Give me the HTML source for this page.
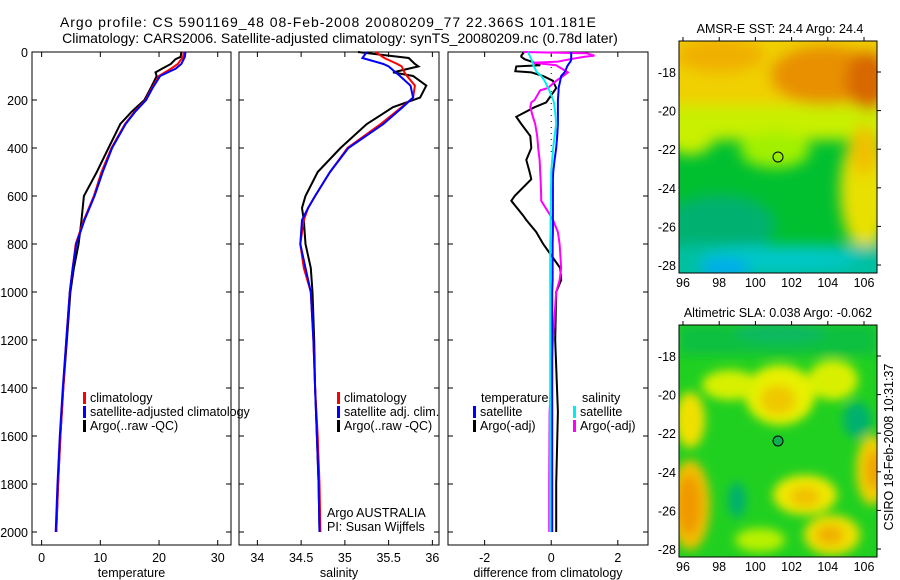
<!DOCTYPE html>
<html><head><meta charset="utf-8"><style>
html,body{margin:0;padding:0;background:#fff}
svg{display:block;font-family:"Liberation Sans",sans-serif}
</style></head><body>
<svg id="c" width="900" height="580" viewBox="0 0 900 580" xmlns="http://www.w3.org/2000/svg">
<defs>
<filter id="bl" x="-30%" y="-30%" width="160%" height="160%"><feGaussianBlur stdDeviation="7"/></filter>
<filter id="bl2" x="-30%" y="-30%" width="160%" height="160%"><feGaussianBlur stdDeviation="5"/></filter>
<clipPath id="m1"><rect x="679" y="41" width="198" height="232"/></clipPath>
<clipPath id="m2"><rect x="679" y="325" width="198" height="232"/></clipPath>
</defs>
<text x="60" y="27" font-size="14" textLength="536" lengthAdjust="spacing">Argo profile: CS 5901169_48 08-Feb-2008 20080209_77 22.366S 101.181E</text>
<text x="340" y="43" font-size="14" text-anchor="middle">Climatology: CARS2006. Satellite-adjusted climatology: synTS_20080209.nc (0.78d later)</text>

<g clip-path="url(#m1)">
<rect x="679" y="41" width="198" height="232" fill="#00c030"/>
<g filter="url(#bl)">
<rect x="660" y="20" width="240" height="105" fill="#f0d000"/>
<rect x="660" y="105" width="240" height="35" fill="#c8f000"/>
<ellipse cx="690" cy="135" rx="25" ry="20" fill="#c8f000"/>
<ellipse cx="775" cy="150" rx="35" ry="18" fill="#a0f000"/>
<ellipse cx="720" cy="55" rx="45" ry="18" fill="#f0b000"/>
<ellipse cx="825" cy="75" rx="55" ry="30" fill="#e89000"/>
<ellipse cx="868" cy="80" rx="22" ry="30" fill="#d86800"/>
<ellipse cx="865" cy="190" rx="25" ry="60" fill="#e8e000"/>
<ellipse cx="864" cy="150" rx="14" ry="25" fill="#f0c000"/>
<ellipse cx="720" cy="225" rx="55" ry="30" fill="#00b070"/>
<rect x="660" y="245" width="240" height="40" fill="#00c0a0"/>
<ellipse cx="780" cy="258" rx="80" ry="12" fill="#00c8c8"/>
<ellipse cx="725" cy="268" rx="25" ry="9" fill="#00a8f0"/>
</g></g>
<rect x="679" y="41" width="198" height="232" fill="none" stroke="#000"/>
<circle cx="778" cy="157" r="5" fill="none" stroke="#000"/>
<text x="780" y="33" font-size="12.5" text-anchor="middle">AMSR-E SST: 24.4  Argo: 24.4</text>

<g clip-path="url(#m2)">
<rect x="679" y="325" width="198" height="232" fill="#20d020"/>
<g filter="url(#bl2)">
<rect x="679" y="325" width="198" height="30" fill="#10c040"/>
<ellipse cx="780" cy="395" rx="35" ry="30" fill="#e8f000"/>
<ellipse cx="778" cy="400" rx="18" ry="15" fill="#f0c800"/>
<ellipse cx="690" cy="505" rx="20" ry="45" fill="#f0c000"/>
<ellipse cx="689" cy="505" rx="12" ry="30" fill="#f09800"/>
<ellipse cx="690" cy="420" rx="15" ry="28" fill="#f0e000"/>
<ellipse cx="872" cy="470" rx="16" ry="35" fill="#f0d000"/>
<ellipse cx="874" cy="470" rx="8" ry="20" fill="#f0a000"/>
<ellipse cx="805" cy="495" rx="32" ry="20" fill="#f0e800"/>
<ellipse cx="805" cy="497" rx="15" ry="10" fill="#f0c000"/>
<ellipse cx="832" cy="535" rx="28" ry="20" fill="#f0e000"/>
<ellipse cx="830" cy="535" rx="14" ry="10" fill="#f0b000"/>
<ellipse cx="730" cy="385" rx="28" ry="15" fill="#d8f000"/>
<ellipse cx="833" cy="380" rx="25" ry="20" fill="#d8f000"/>
<ellipse cx="760" cy="540" rx="25" ry="12" fill="#b8f000"/>
<ellipse cx="857" cy="420" rx="14" ry="18" fill="#00b070"/>
<ellipse cx="737" cy="500" rx="9" ry="18" fill="#00b070"/>
<ellipse cx="780" cy="333" rx="45" ry="10" fill="#10b860"/>
</g></g>
<rect x="679" y="325" width="198" height="232" fill="none" stroke="#000"/>
<circle cx="778" cy="441" r="5" fill="#10b050" stroke="#000"/>
<text x="778" y="317" font-size="12.5" text-anchor="middle">Altimetric SLA: 0.038  Argo: -0.062</text>
<text transform="translate(893,447) rotate(-90)" font-size="12.5" text-anchor="middle">CSIRO 18-Feb-2008 10:31:37</text>
<g id="g"></g>
</svg>
<script>
// ---- data ----
var depthTicks=[0,200,400,600,800,1000,1200,1400,1600,1800,2000];
var tTicks=[0,10,20,30];
var sTicks=[34,34.5,35,35.5,36];
var dTicks=[-2,0,2];
var tDepth=[0,20,30,50,70,85,100,150,200,250,300,400,500,600,700,800,900,1000,1200,1400,1600,1800,2000];
var tArgo=[23.8,23.7,22.8,22.0,20.5,19.4,19.6,18.6,17.5,15.3,13.4,11.4,9.4,7.2,6.8,6.3,5.5,4.9,4.3,3.7,3.2,2.8,2.5];
var tClim=[24.2,24.1,23.8,23.2,22.0,21.0,20.0,18.8,17.7,15.8,14.2,11.9,10.2,8.9,7.2,5.8,5.3,4.8,4.2,3.7,3.2,2.8,2.5];
var tSat=[24.5,24.4,24.2,23.8,22.8,21.5,20.2,18.9,17.8,15.9,14.3,12.0,10.4,9.0,7.3,5.9,5.3,4.8,4.2,3.6,3.1,2.7,2.4];
var sDepth=[0,25,50,60,85,100,140,190,230,300,400,500,600,650,700,800,900,1000,1200,1400,1600,1800,2000];
var sArgo=[35.15,35.73,35.80,35.84,35.55,35.78,35.93,35.86,35.55,35.25,34.95,34.69,34.55,34.51,34.53,34.55,34.61,34.63,34.65,34.66,34.68,34.70,34.71];
var sClim=[35.35,35.45,35.6,35.65,35.68,35.71,35.80,35.78,35.65,35.41,35.03,34.83,34.66,34.58,34.53,34.49,34.53,34.61,34.64,34.66,34.69,34.71,34.72];
var sSat=[35.25,35.2,35.44,35.5,35.58,35.63,35.75,35.78,35.66,35.44,35.04,34.83,34.66,34.58,34.51,34.49,34.55,34.61,34.64,34.66,34.68,34.70,34.71];
var dDepth=[0,5,15,20,30,40,45,55,60,80,85,100,120,150,160,200,210,230,270,300,350,400,450,500,530,600,620,680,700,750,800,900,950,1000,1200,1500,1800,2000];
var dTempSat=[0.6,0.6,0.6,0.6,0.6,0.58,0.55,0.5,0.48,0.42,0.4,0.3,0.27,0.22,0.22,0.2,0.2,0.2,0.2,0.2,0.18,0.15,0.1,0.06,0.05,0.05,0.05,0.05,0.05,0.05,0.04,0.04,0.04,0.03,0.03,0.03,0.03,0.03];
var dTempArgo=[-0.84,-0.84,-0.9,-0.9,-0.8,-0.6,-0.5,-0.33,-1.05,-1.08,-0.6,-0.24,0.05,0.15,0.1,-0.1,-0.15,-0.5,-1.05,-0.9,-0.63,-0.6,-0.75,-0.65,-0.6,-1.1,-1.2,-0.85,-0.75,-0.45,-0.24,0.27,0.3,0.15,0.12,0.2,0.15,0.15];
var dSalSat=[-0.7,-0.68,-0.65,-0.63,-0.6,-0.57,-0.56,-0.54,-0.52,-0.45,-0.42,-0.3,-0.2,-0.09,-0.06,0.06,0.08,0.1,0.13,0.15,0.1,0.06,0.03,0,0,-0.01,-0.01,-0.02,-0.02,-0.02,-0.03,-0.03,-0.03,-0.03,-0.03,-0.03,-0.03,-0.03];
var dSalArgo=[-0.84,1.05,1.3,1.0,0.57,0.2,-0.54,0.15,0.2,0.45,0.5,0.36,0.15,-0.1,-0.33,-0.5,-0.6,-0.63,-0.55,-0.48,-0.42,-0.39,-0.35,-0.33,-0.32,-0.3,-0.3,-0.03,0.05,0.2,0.25,0.3,0.25,0.15,0.05,-0.05,-0.06,-0.06];

var NS="http://www.w3.org/2000/svg", G=document.getElementById('g');
function el(t,a,p){var e=document.createElementNS(NS,t);for(var k in a)e.setAttribute(k,a[k]);(p||G).appendChild(e);return e;}
function yS(d){return 52+0.24*d;}
var panels=[
 {x0:32,x1:231,v0:-1.64,k:5.87,ticks:tTicks,label:'temperature',name:'temperature'},
 {x0:239,x1:439,v0:33.79,k:87.5,ticks:sTicks,label:'salinity',name:'salinity'},
 {x0:448,x1:648,v0:-3.1,k:33.3,ticks:dTicks,label:'difference from climatology',name:'difference'}];
function xS(p,v){return p.x0+(v-p.v0)*p.k;}
panels.forEach(function(p,i){
 var r=el('rect',{x:p.x0,y:52,width:p.x1-p.x0,height:493,fill:'none',stroke:'#000'});
 
 
 p.ticks.forEach(function(t){
  var x=xS(p,t);
  el('line',{x1:x,y1:52,x2:x,y2:57,stroke:'#000'});
  el('line',{x1:x,y1:545,x2:x,y2:540,stroke:'#000'});
  var tx=el('text',{x:x,y:562,'font-size':12.5,'text-anchor':'middle'});tx.textContent=t;
  
  
 });
 depthTicks.forEach(function(d){
  var y=yS(d);
  el('line',{x1:p.x0,y1:y,x2:p.x0+5,y2:y,stroke:'#000'});
  el('line',{x1:p.x1,y1:y,x2:p.x1-5,y2:y,stroke:'#000'});
  if(i==0){var tx=el('text',{x:28,y:y+5,'font-size':12.5,'text-anchor':'end'});tx.textContent=d;
   
   }
 });
 var lb=el('text',{x:(p.x0+p.x1)/2,y:577,'font-size':12.5,'text-anchor':'middle'});lb.textContent=p.label;
 
 
});
function line(p,ds,vs,col,w,name){
 var pts=ds.map(function(d,i){return xS(p,vs[i]).toFixed(1)+','+yS(d).toFixed(1);}).join(' ');
 var pl=el('polyline',{points:pts,fill:'none',stroke:col,'stroke-width':w,'stroke-linejoin':'miter'});
 
 
}
var P=panels;
line(P[0],tDepth,tArgo,'#000',2,'temperature-argo-line');
line(P[0],tDepth,tClim,'#f00',2,'temperature-climatology-line');
line(P[0],tDepth,tSat,'#00f',2,'temperature-satellite-line');
line(P[1],sDepth,sArgo,'#000',2,'salinity-argo-line');
line(P[1],sDepth,sClim,'#f00',2,'salinity-climatology-line');
line(P[1],sDepth,sSat,'#00f',2,'salinity-satellite-line');
el('line',{x1:xS(P[2],0),y1:55,x2:xS(P[2],0),y2:yS(420),stroke:'#000','stroke-dasharray':'1,5'});
line(P[2],dDepth,dTempArgo,'#000',2,'diff-temperature-argo-line');
line(P[2],dDepth,dSalArgo,'#f0f',2,'diff-salinity-argo-line');
line(P[2],dDepth,dTempSat,'#00f',2,'diff-temperature-satellite-line');
line(P[2],dDepth,dSalSat,'#0ee',2,'diff-salinity-satellite-line');
function leg(x,y,col,txt,name){
 if(col){var r=el('rect',{x:x,y:y-10,width:3,height:12,fill:col});
  
  }
 var t=el('text',{x:x+7,y:y,'font-size':12.5});t.textContent=txt;
 
 
}
leg(83,402,'#f00','climatology','legend-climatology');
leg(83,416,'#00f','satellite-adjusted climatology','legend-satellite-adjusted');
leg(83,430,'#000','Argo(..raw -QC)','legend-argo');
leg(337,402,'#f00','climatology','legend-sal-climatology');
leg(337,416,'#00f','satellite adj. clim.','legend-sal-satellite');
leg(337,430,'#000','Argo(..raw -QC)','legend-sal-argo');
leg(320,517,null,'Argo AUSTRALIA','argo-australia-label');
leg(320,531,null,'PI: Susan Wijffels','pi-label');
leg(474,402,null,'temperature','legend-temperature-header');
leg(473,416,'#00f','satellite','legend-diff-temp-satellite');
leg(473,430,'#000','Argo(-adj)','legend-diff-temp-argo');
leg(575,402,null,'salinity','legend-salinity-header');
leg(573,416,'#0ee','satellite','legend-diff-sal-satellite');
leg(573,430,'#f0f','Argo(-adj)','legend-diff-sal-argo');
// map axes
var lonTicks=[96,98,100,102,104,106], latTicks=[-18,-20,-22,-24,-26,-28];
[[41,273,72,265],[325,557,356,549]].forEach(function(m,mi){
 lonTicks.forEach(function(l){var x=683+(l-96)*18.1;
  el('line',{x1:x,y1:m[0],x2:x,y2:m[0]-4,stroke:'#000'});
  var t=el('text',{x:x,y:m[1]+14,'font-size':12.5,'text-anchor':'middle'});t.textContent=l;
  
  });
 latTicks.forEach(function(l){var y=m[2]+(-18-l)*(m[3]-m[2])/10;
  el('line',{x1:877,y1:y,x2:881,y2:y,stroke:'#000'});
  var t=el('text',{x:676,y:y+5,'font-size':12.5,'text-anchor':'end'});t.textContent=l;
  
  });
});
</script>
</body></html>
